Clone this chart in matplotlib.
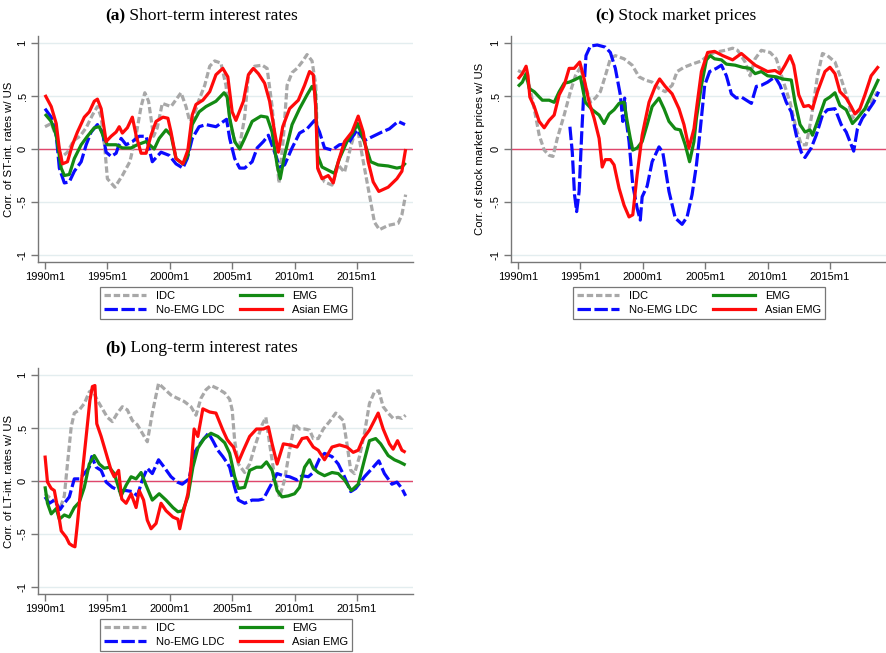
import numpy as np
import matplotlib
matplotlib.use("Agg")
import matplotlib.pyplot as plt
from matplotlib.lines import Line2D

plt.rcParams['font.family'] = ['Liberation Sans', 'DejaVu Sans']

GROUPS = ["IDC", "No-EMG LDC", "EMG", "Asian EMG"]
YEAR_TICKS = [1990, 1995, 2000, 2005, 2010, 2015]
YEAR_LABELS = ["1990m1", "1995m1", "2000m1", "2005m1", "2010m1", "2015m1"]
CORR_TICKS = [-1, -0.5, 0, 0.5, 1]
CORR_LABELS = ["-1", "-.5", "0", ".5", "1"]

# (a) short-term interest rates: (year, correlation)
st_idc = [(1990.0, 0.21), (1990.5, 0.24), (1990.9, 0.12), (1991.3, -0.08), (1991.8, -0.03),
          (1992.3, 0.08), (1992.8, 0.12), (1993.3, 0.2), (1993.8, 0.32), (1994.2, 0.4),
          (1994.5, 0.3), (1994.8, 0.0), (1995.0, -0.28), (1995.6, -0.36), (1996.2, -0.25),
          (1996.8, -0.12), (1997.3, 0.13), (1997.7, 0.4), (1998.0, 0.53), (1998.3, 0.45),
          (1998.7, 0.12), (1999.0, 0.2), (1999.4, 0.43), (2000.1, 0.4), (2000.9, 0.53),
          (2001.3, 0.4), (2001.6, 0.26), (2001.9, 0.3), (2002.3, 0.45), (2002.8, 0.6),
          (2003.2, 0.78), (2003.6, 0.83), (2004.1, 0.81), (2004.5, 0.6), (2004.9, 0.2),
          (2005.3, 0.05), (2005.6, 0.03), (2006.0, 0.3), (2006.3, 0.7), (2006.8, 0.78),
          (2007.4, 0.79), (2007.8, 0.76), (2008.2, 0.4), (2008.5, 0.0), (2008.75, -0.32),
          (2009.1, 0.1), (2009.4, 0.6), (2009.8, 0.72), (2010.2, 0.76), (2010.6, 0.82),
          (2011.0, 0.89), (2011.4, 0.83), (2011.7, 0.6), (2011.9, -0.2), (2012.4, -0.31),
          (2013.0, -0.34), (2013.5, -0.15), (2014.0, -0.22), (2014.5, 0.02), (2015.0, 0.23),
          (2015.4, -0.05), (2015.9, -0.37), (2016.4, -0.69), (2016.8, -0.76), (2017.5, -0.72),
          (2018.3, -0.7), (2018.6, -0.62), (2018.9, -0.43)]
st_ldc = [(1990.0, 0.38), (1990.5, 0.3), (1990.9, 0.13), (1991.15, -0.18), (1991.55, -0.32),
          (1991.95, -0.31), (1992.35, -0.21), (1992.9, -0.12), (1993.3, 0.04), (1993.7, 0.16),
          (1994.2, 0.23), (1994.6, 0.16), (1994.9, -0.03), (1995.3, -0.07), (1995.7, -0.04),
          (1996.1, 0.1), (1996.5, 0.04), (1997.0, 0.07), (1997.55, 0.12), (1998.1, 0.12),
          (1998.6, -0.12), (1999.3, -0.03), (1999.95, -0.06), (2000.5, -0.14), (2001.05, -0.18),
          (2001.4, -0.09), (2001.8, 0.1), (2002.35, 0.21), (2002.9, 0.23), (2003.7, 0.21),
          (2004.55, 0.28), (2004.8, 0.1), (2005.2, -0.09), (2005.6, -0.18), (2006.0, -0.18),
          (2006.6, -0.12), (2007.0, 0.01), (2007.5, 0.07), (2007.9, 0.13), (2008.4, -0.03),
          (2008.8, -0.17), (2009.2, -0.15), (2009.8, 0.01), (2010.4, 0.15), (2011.0, 0.19),
          (2011.6, 0.27), (2012.0, 0.16), (2012.4, 0.01), (2013.0, -0.01), (2013.6, 0.04),
          (2014.3, 0.05), (2015.0, 0.18), (2015.6, 0.08), (2016.3, 0.12), (2017.0, 0.16),
          (2017.6, 0.19), (2018.3, 0.26), (2018.85, 0.23)]
st_emg = [(1990.0, 0.33), (1990.5, 0.26), (1990.9, 0.13), (1991.3, -0.18), (1991.55, -0.25),
          (1991.95, -0.24), (1992.35, -0.09), (1992.9, 0.04), (1993.4, 0.12), (1993.95, 0.2),
          (1994.35, 0.21), (1994.75, 0.1), (1995.0, 0.04), (1995.7, 0.04), (1996.2, 0.01),
          (1996.9, 0.01), (1997.4, 0.04), (1998.1, 0.07), (1998.75, 0.0), (1999.15, 0.1),
          (1999.7, 0.18), (2000.1, 0.13), (2000.5, -0.09), (2001.05, -0.14), (2001.45, -0.06),
          (2001.8, 0.23), (2002.35, 0.35), (2002.9, 0.4), (2003.7, 0.45), (2004.35, 0.53),
          (2004.6, 0.49), (2004.8, 0.29), (2005.2, 0.07), (2005.6, 0.0), (2006.0, 0.1),
          (2006.6, 0.26), (2007.3, 0.31), (2007.8, 0.3), (2008.2, 0.16), (2008.6, -0.15),
          (2008.85, -0.28), (2009.2, -0.06), (2009.8, 0.23), (2010.4, 0.38), (2011.0, 0.51),
          (2011.4, 0.59), (2011.65, 0.54), (2011.85, -0.06), (2012.2, -0.17), (2012.7, -0.2),
          (2013.2, -0.23), (2013.6, -0.09), (2014.2, 0.07), (2014.7, 0.16), (2015.05, 0.24),
          (2015.5, 0.1), (2016.1, -0.12), (2016.7, -0.15), (2017.5, -0.16), (2018.2, -0.18),
          (2018.6, -0.17), (2018.9, -0.13)]
st_asia = [(1990.0, 0.51), (1990.5, 0.4), (1990.9, 0.24), (1991.15, 0.0), (1991.4, -0.14),
           (1991.8, -0.12), (1992.2, 0.04), (1992.6, 0.16), (1993.15, 0.3), (1993.55, 0.35),
           (1993.95, 0.45), (1994.2, 0.47), (1994.5, 0.38), (1994.9, 0.07), (1995.3, 0.12),
           (1995.7, 0.16), (1995.95, 0.21), (1996.2, 0.15), (1996.6, 0.2), (1997.0, 0.3),
           (1997.3, 0.13), (1997.7, -0.04), (1998.1, -0.04), (1998.5, 0.13), (1998.9, 0.26),
           (1999.45, 0.3), (1999.85, 0.29), (2000.1, 0.16), (2000.5, -0.09), (2001.05, -0.14),
           (2001.45, -0.01), (2001.8, 0.32), (2002.1, 0.42), (2002.65, 0.46), (2003.2, 0.54),
           (2003.7, 0.7), (2004.25, 0.76), (2004.65, 0.68), (2005.0, 0.35), (2005.3, 0.27),
           (2005.9, 0.45), (2006.3, 0.7), (2006.7, 0.76), (2007.1, 0.71), (2007.6, 0.62),
           (2008.0, 0.45), (2008.4, 0.16), (2008.7, -0.03), (2009.05, 0.21), (2009.6, 0.38),
           (2010.3, 0.46), (2010.8, 0.6), (2011.2, 0.73), (2011.5, 0.7), (2011.7, 0.38),
           (2011.85, -0.18), (2012.2, -0.28), (2012.7, -0.25), (2013.1, -0.32), (2013.5, -0.12),
           (2014.0, 0.07), (2014.6, 0.16), (2015.1, 0.31), (2015.5, 0.16), (2015.9, -0.12),
           (2016.3, -0.31), (2016.75, -0.4), (2017.5, -0.36), (2018.2, -0.28), (2018.6, -0.21),
           (2018.9, 0.0)]

# (b) long-term interest rates
lt_idc = [(1990.0, -0.12), (1990.5, -0.17), (1990.9, -0.2), (1991.3, -0.23), (1991.55, -0.14),
          (1991.8, 0.16), (1992.1, 0.51), (1992.35, 0.64), (1992.75, 0.67), (1993.15, 0.73),
          (1993.55, 0.84), (1993.8, 0.86), (1994.2, 0.76), (1994.6, 0.68), (1995.0, 0.6),
          (1995.4, 0.56), (1995.8, 0.64), (1996.2, 0.7), (1996.6, 0.67), (1997.0, 0.57),
          (1997.4, 0.53), (1997.8, 0.45), (1998.2, 0.37), (1998.6, 0.64), (1999.1, 0.92),
          (1999.55, 0.87), (2000.1, 0.81), (2000.6, 0.78), (2001.15, 0.75), (2001.7, 0.7),
          (2002.1, 0.62), (2002.5, 0.78), (2002.9, 0.86), (2003.3, 0.9), (2003.85, 0.87),
          (2004.4, 0.83), (2004.8, 0.77), (2005.0, 0.67), (2005.2, 0.38), (2005.5, 0.16),
          (2006.0, 0.08), (2006.4, 0.16), (2006.8, 0.32), (2007.4, 0.53), (2007.7, 0.6),
          (2008.0, 0.35), (2008.4, 0.04), (2008.8, -0.15), (2009.2, 0.01), (2009.6, 0.29),
          (2010.0, 0.54), (2010.4, 0.49), (2010.8, 0.49), (2011.2, 0.48), (2011.5, 0.4),
          (2011.9, 0.4), (2012.3, 0.49), (2012.8, 0.56), (2013.3, 0.64), (2013.9, 0.57),
          (2014.2, 0.35), (2014.5, 0.1), (2014.8, 0.07), (2015.2, 0.23), (2015.6, 0.45),
          (2016.0, 0.73), (2016.4, 0.84), (2016.75, 0.85), (2017.1, 0.7), (2017.5, 0.64),
          (2017.9, 0.59), (2018.3, 0.6), (2018.6, 0.59), (2018.9, 0.62)]
lt_ldc = [(1990.0, -0.15), (1990.35, -0.21), (1990.75, -0.18), (1991.2, -0.27), (1991.55, -0.21),
          (1991.95, -0.15), (1992.35, 0.02), (1992.75, 0.02), (1993.15, 0.07), (1993.55, 0.13),
          (1993.75, 0.23), (1994.1, 0.13), (1994.5, 0.1), (1994.9, -0.01), (1995.4, -0.06),
          (1995.95, -0.09), (1996.5, -0.09), (1997.0, -0.1), (1997.4, -0.14), (1997.8, 0.01),
          (1998.2, 0.12), (1998.6, 0.07), (1999.1, 0.2), (1999.55, 0.13), (2000.1, 0.04),
          (2000.6, -0.01), (2001.0, -0.03), (2001.55, 0.02), (2001.95, 0.26), (2002.35, 0.34),
          (2002.75, 0.4), (2003.1, 0.45), (2003.45, 0.38), (2003.85, 0.29), (2004.25, 0.23),
          (2004.6, 0.17), (2004.8, 0.13), (2005.2, -0.06), (2005.5, -0.18), (2006.0, -0.21),
          (2006.6, -0.18), (2007.1, -0.18), (2007.5, -0.17), (2008.0, -0.06), (2008.6, 0.07),
          (2009.1, 0.05), (2009.6, 0.04), (2010.2, 0.01), (2010.6, 0.05), (2011.1, 0.04),
          (2011.5, 0.08), (2012.0, 0.21), (2012.4, 0.26), (2013.0, 0.23), (2013.5, 0.16),
          (2014.0, 0.04), (2014.5, -0.1), (2014.9, -0.07), (2015.6, 0.04), (2016.3, 0.13),
          (2016.75, 0.19), (2017.2, 0.07), (2017.8, -0.03), (2018.2, -0.01), (2018.6, -0.07),
          (2018.9, -0.14)]
lt_emg = [(1990.0, -0.05), (1990.2, -0.21), (1990.5, -0.31), (1990.9, -0.26), (1991.15, -0.36),
          (1991.55, -0.32), (1991.95, -0.34), (1992.35, -0.25), (1992.75, -0.2), (1993.15, -0.06),
          (1993.55, 0.16), (1993.95, 0.24), (1994.35, 0.16), (1994.75, 0.12), (1995.15, 0.13),
          (1995.55, 0.07), (1996.1, -0.14), (1996.5, -0.04), (1996.9, 0.04), (1997.3, 0.02),
          (1997.7, 0.08), (1998.1, -0.04), (1998.6, -0.18), (1999.15, -0.12), (1999.7, -0.18),
          (2000.25, -0.25), (2000.65, -0.29), (2001.05, -0.28), (2001.45, -0.15), (2001.85, 0.13),
          (2002.25, 0.31), (2002.75, 0.4), (2003.3, 0.45), (2003.85, 0.42), (2004.4, 0.36),
          (2004.8, 0.26), (2005.2, 0.04), (2005.5, -0.07), (2006.0, -0.06), (2006.4, 0.1),
          (2006.95, 0.13), (2007.35, 0.13), (2007.75, 0.18), (2008.2, 0.1), (2008.6, -0.09),
          (2009.0, -0.15), (2009.5, -0.14), (2010.0, -0.12), (2010.4, -0.06), (2010.8, 0.13),
          (2011.2, 0.2), (2011.5, 0.12), (2011.9, 0.08), (2012.4, 0.05), (2013.0, 0.08),
          (2013.5, 0.07), (2014.0, 0.01), (2014.55, -0.09), (2015.1, -0.03), (2015.6, 0.2),
          (2016.0, 0.38), (2016.5, 0.4), (2016.9, 0.35), (2017.5, 0.24), (2018.0, 0.2),
          (2018.4, 0.18), (2018.9, 0.15)]
lt_asia = [(1990.0, 0.24), (1990.2, -0.01), (1990.5, -0.07), (1990.75, -0.09), (1991.0, -0.25),
           (1991.3, -0.47), (1991.7, -0.53), (1991.95, -0.59), (1992.2, -0.61), (1992.4, -0.62),
           (1992.6, -0.4), (1992.9, -0.03), (1993.3, 0.42), (1993.6, 0.76), (1993.8, 0.89),
           (1994.0, 0.9), (1994.15, 0.54), (1994.5, 0.42), (1994.9, 0.26), (1995.3, 0.1),
           (1995.55, 0.04), (1995.9, 0.1), (1996.15, -0.17), (1996.5, -0.21), (1996.9, -0.12),
           (1997.3, -0.25), (1997.55, -0.09), (1997.9, -0.18), (1998.2, -0.37), (1998.5, -0.45),
           (1998.9, -0.4), (1999.3, -0.21), (1999.7, -0.28), (2000.25, -0.34), (2000.65, -0.36),
           (2000.8, -0.45), (2001.05, -0.31), (2001.45, -0.12), (2001.7, 0.13), (2001.95, 0.49),
           (2002.25, 0.42), (2002.65, 0.68), (2003.2, 0.65), (2003.7, 0.64), (2004.25, 0.48),
           (2004.6, 0.39), (2004.8, 0.36), (2005.1, 0.32), (2005.5, 0.18), (2005.9, 0.29),
           (2006.4, 0.42), (2006.95, 0.49), (2007.5, 0.49), (2007.9, 0.51), (2008.2, 0.35),
           (2008.6, 0.16), (2009.1, 0.35), (2009.6, 0.34), (2010.2, 0.32), (2010.6, 0.4),
           (2011.0, 0.41), (2011.5, 0.32), (2011.9, 0.29), (2012.4, 0.2), (2013.0, 0.32),
           (2013.6, 0.34), (2014.2, 0.32), (2014.7, 0.27), (2015.1, 0.29), (2015.5, 0.4),
           (2016.0, 0.48), (2016.7, 0.64), (2017.1, 0.49), (2017.6, 0.35), (2017.9, 0.3),
           (2018.25, 0.38), (2018.6, 0.29), (2018.9, 0.27)]

# (c) stock market prices
sm_idc = [(1990.0, 0.74), (1990.5, 0.71), (1990.9, 0.6), (1991.3, 0.38), (1991.7, 0.13),
          (1992.1, -0.01), (1992.5, -0.06), (1992.8, -0.07), (1993.15, 0.1), (1993.7, 0.32),
          (1994.2, 0.54), (1994.6, 0.69), (1995.0, 0.77), (1995.4, 0.6), (1995.8, 0.44),
          (1996.2, 0.48), (1996.6, 0.54), (1997.0, 0.69), (1997.4, 0.85), (1997.8, 0.88),
          (1998.5, 0.85), (1999.15, 0.79), (1999.7, 0.68), (2000.2, 0.65), (2000.75, 0.63),
          (2001.3, 0.57), (2001.8, 0.54), (2002.35, 0.6), (2002.75, 0.73), (2003.3, 0.77),
          (2003.95, 0.8), (2004.7, 0.83), (2005.2, 0.88), (2005.75, 0.91), (2006.6, 0.93),
          (2007.2, 0.95), (2007.6, 0.93), (2008.2, 0.82), (2008.6, 0.69), (2009.0, 0.85),
          (2009.5, 0.93), (2010.2, 0.91), (2010.7, 0.85), (2011.2, 0.66), (2011.8, 0.44),
          (2012.3, 0.19), (2012.7, 0.04), (2013.1, 0.04), (2013.5, 0.29), (2014.0, 0.69),
          (2014.4, 0.9), (2014.8, 0.88), (2015.4, 0.82), (2015.9, 0.66), (2016.4, 0.48),
          (2016.8, 0.29), (2017.2, 0.35), (2017.8, 0.37), (2018.3, 0.44), (2018.8, 0.54)]
sm_ldc = [(1994.16, 0.21), (1994.35, -0.03), (1994.53, -0.43), (1994.7, -0.59), (1994.9, -0.4),
          (1995.1, 0.13), (1995.3, 0.6), (1995.45, 0.88), (1995.8, 0.97), (1996.35, 0.98),
          (1997.0, 0.96), (1997.4, 0.91), (1997.8, 0.76), (1998.2, 0.51), (1998.4, 0.26),
          (1998.55, 0.48), (1998.65, 0.29), (1998.9, 0.07), (1999.2, -0.34), (1999.55, -0.56),
          (1999.8, -0.67), (1999.95, -0.45), (2000.35, -0.35), (2000.75, -0.12), (2001.3, 0.02),
          (2001.6, -0.03), (2002.1, -0.4), (2002.6, -0.65), (2003.15, -0.71), (2003.55, -0.64),
          (2003.95, -0.43), (2004.3, -0.15), (2004.56, 0.13), (2004.96, 0.6), (2005.36, 0.73),
          (2005.9, 0.76), (2006.3, 0.79), (2006.7, 0.69), (2007.1, 0.52), (2007.5, 0.48),
          (2007.9, 0.49), (2008.3, 0.46), (2008.7, 0.43), (2009.1, 0.59), (2009.5, 0.6),
          (2010.0, 0.63), (2010.6, 0.68), (2011.0, 0.6), (2011.5, 0.44), (2011.9, 0.35),
          (2012.3, 0.13), (2012.7, -0.03), (2013.0, -0.08), (2013.5, 0.01), (2013.9, 0.13),
          (2014.4, 0.32), (2014.8, 0.37), (2015.4, 0.38), (2015.9, 0.23), (2016.3, 0.16),
          (2016.7, 0.04), (2016.9, -0.02), (2017.2, 0.19), (2017.6, 0.29), (2018.1, 0.37),
          (2018.5, 0.44), (2018.9, 0.54)]
sm_emg = [(1990.0, 0.59), (1990.35, 0.63), (1990.65, 0.71), (1990.9, 0.57), (1991.3, 0.54),
          (1991.7, 0.49), (1991.95, 0.46), (1992.5, 0.46), (1992.9, 0.44), (1993.3, 0.54),
          (1993.7, 0.62), (1994.1, 0.63), (1994.5, 0.65), (1995.0, 0.68), (1995.4, 0.44),
          (1995.95, 0.37), (1996.5, 0.32), (1996.9, 0.24), (1997.3, 0.33), (1997.7, 0.37),
          (1998.1, 0.43), (1998.5, 0.44), (1998.75, 0.26), (1999.0, 0.1), (1999.2, -0.01),
          (1999.55, 0.01), (1999.95, 0.07), (2000.35, 0.23), (2000.75, 0.4), (2001.3, 0.48),
          (2001.7, 0.38), (2002.1, 0.26), (2002.6, 0.19), (2003.0, 0.18), (2003.4, 0.04),
          (2003.75, -0.12), (2004.1, 0.07), (2004.3, 0.29), (2004.7, 0.6), (2005.1, 0.84),
          (2005.4, 0.88), (2005.75, 0.85), (2006.3, 0.84), (2006.7, 0.8), (2007.4, 0.79),
          (2008.0, 0.77), (2008.6, 0.76), (2009.0, 0.71), (2009.5, 0.73), (2010.0, 0.69),
          (2010.7, 0.68), (2011.2, 0.66), (2011.9, 0.65), (2012.2, 0.44), (2012.6, 0.23),
          (2013.0, 0.16), (2013.4, 0.18), (2013.6, 0.13), (2014.0, 0.26), (2014.6, 0.46),
          (2015.0, 0.49), (2015.4, 0.53), (2015.8, 0.41), (2016.3, 0.37), (2016.8, 0.24),
          (2017.2, 0.29), (2017.8, 0.38), (2018.3, 0.51), (2018.9, 0.66)]
sm_asia = [(1990.0, 0.66), (1990.35, 0.71), (1990.65, 0.78), (1990.8, 0.69), (1990.95, 0.49),
           (1991.3, 0.4), (1991.7, 0.26), (1992.1, 0.2), (1992.5, 0.27), (1992.9, 0.32),
           (1993.3, 0.51), (1993.7, 0.6), (1994.1, 0.76), (1994.5, 0.76), (1994.95, 0.82),
           (1995.3, 0.66), (1995.7, 0.44), (1996.1, 0.29), (1996.5, 0.1), (1996.75, -0.17),
           (1997.0, -0.1), (1997.4, -0.1), (1997.7, -0.15), (1998.1, -0.37), (1998.5, -0.53),
           (1998.9, -0.64), (1999.2, -0.62), (1999.55, -0.24), (1999.95, 0.13), (2000.5, 0.44),
           (2001.0, 0.59), (2001.35, 0.66), (2001.8, 0.59), (2002.35, 0.52), (2002.9, 0.38),
           (2003.3, 0.23), (2003.7, 0.01), (2004.1, 0.19), (2004.35, 0.42), (2004.7, 0.73),
           (2005.2, 0.91), (2005.75, 0.92), (2006.4, 0.88), (2007.2, 0.84), (2007.9, 0.9),
           (2008.4, 0.85), (2009.0, 0.79), (2009.5, 0.76), (2010.0, 0.73), (2010.6, 0.74),
           (2011.0, 0.71), (2011.4, 0.79), (2011.8, 0.88), (2012.1, 0.79), (2012.5, 0.51),
           (2012.9, 0.4), (2013.3, 0.41), (2013.6, 0.38), (2014.0, 0.54), (2014.6, 0.73),
           (2015.0, 0.77), (2015.4, 0.71), (2015.8, 0.54), (2016.3, 0.48), (2016.7, 0.4),
           (2017.0, 0.33), (2017.4, 0.38), (2017.8, 0.51), (2018.3, 0.69), (2018.9, 0.78)]

STYLES = [dict(color='#a8a8a8', dashes=(2.0, 0.9)),
          dict(color='#0a0aff', dashes=(4.2, 1.1)),
          dict(color='#138a13'),
          dict(color='#ff0a0a')]

W, H = 886, 653
fig = plt.figure(figsize=(W / 100, H / 100), dpi=100)


def px_axes(left, top, right, bottom):
    return fig.add_axes([left / W, 1 - bottom / H, (right - left) / W, (bottom - top) / H])


def draw_panel(ax, series, ylabel, label_x):
    ax.set_xlim(1989.44, 2019.49)
    ax.set_ylim(-1.065, 1.065)
    ax.grid(axis='y', color='#e3edef', lw=1.0)
    ax.axhline(0, color='#e0466c', lw=1.0, zorder=1.8)
    for pts, style in zip(series, STYLES):
        arr = np.array(pts)
        ax.plot(arr[:, 0], arr[:, 1], lw=2.3, solid_capstyle='butt', zorder=2, **style)
    for s in ['top', 'right']:
        ax.spines[s].set_visible(False)
    for s in ['left', 'bottom']:
        ax.spines[s].set_color('#777777')
        ax.spines[s].set_linewidth(1.0)
    ax.set_xticks(YEAR_TICKS)
    ax.set_xticklabels(YEAR_LABELS)
    ax.set_yticks(CORR_TICKS)
    ax.set_yticklabels(CORR_LABELS, rotation=90, va='center')
    ax.tick_params(length=5, width=1, color='#777777', labelsize=8, pad=2.5, labelcolor='black')
    ax.set_ylabel(ylabel, fontsize=8.2)
    ax.yaxis.set_label_coords(label_x, 0.5)


def panel_title(x, y, tag, text):
    t = fig.text(x / W, 1 - y / H, tag, fontfamily='Liberation Serif', fontweight='bold',
                 fontsize=12.5, va='center', ha='left')
    plt.annotate(' ' + text, xy=(1, 0), xycoords=t, va='bottom', ha='left',
                 fontfamily='Liberation Serif', fontsize=12.5, annotation_clip=False)


def panel_legend(x, y):
    handles = [Line2D([], [], lw=2.3, **st) for st in STYLES]
    leg = fig.legend(handles, GROUPS, ncol=2, loc='upper left', bbox_to_anchor=(x / W, 1 - y / H),
                     frameon=True, fancybox=False, edgecolor='#777777', fontsize=8,
                     handlelength=3.8, handletextpad=0.9, columnspacing=1.4, labelspacing=0.4,
                     borderpad=0.35, borderaxespad=0.0, framealpha=1.0)
    leg.get_frame().set_linewidth(0.9)


ax_a = px_axes(38, 36, 413, 262)
draw_panel(ax_a, [st_idc, st_ldc, st_emg, st_asia], 'Corr. of ST-int. rates w/ US', -0.064)
ax_c = px_axes(511, 36, 886, 262)
draw_panel(ax_c, [sm_idc, sm_ldc, sm_emg, sm_asia], 'Corr. of stock market prices w/ US', -0.069)
ax_b = px_axes(38, 368, 413, 594)
draw_panel(ax_b, [lt_idc, lt_ldc, lt_emg, lt_asia], 'Corr. of LT-int. rates w/ US', -0.064)

panel_title(105, 16, '(a)', 'Short-term interest rates')
panel_title(595, 16, '(c)', 'Stock market prices')
panel_title(105, 348, '(b)', 'Long-term interest rates')

panel_legend(100, 287)
panel_legend(573, 287)
panel_legend(100, 619)

fig.savefig('out.png', dpi=100)
